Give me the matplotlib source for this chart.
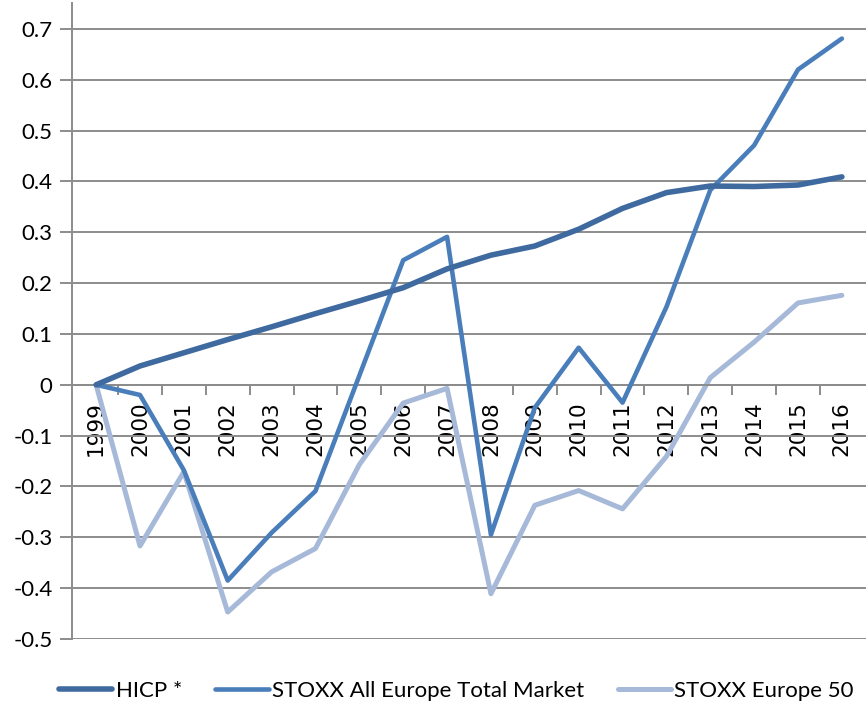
import matplotlib
matplotlib.use('Agg')
import matplotlib.pyplot as plt
import numpy as np

years = ['1999', '2000', '2001', '2002', '2003', '2004', '2005', '2006', '2007',
         '2008', '2009', '2010', '2011', '2012', '2013', '2014', '2015', '2016']
hicp = [0, 0.037, 0.063, 0.089, 0.114, 0.140, 0.165, 0.191, 0.228,
        0.255, 0.273, 0.306, 0.347, 0.378, 0.391, 0.390, 0.393, 0.409]
stoxx_total = [0, -0.02, -0.168, -0.385, -0.291, -0.209, 0.018, 0.245, 0.291,
               -0.295, -0.045, 0.073, -0.035, 0.153, 0.383, 0.471, 0.620, 0.681]
stoxx_50 = [0, -0.317, -0.171, -0.447, -0.368, -0.322, -0.157, -0.036, -0.007,
            -0.411, -0.237, -0.208, -0.244, -0.141, 0.014, 0.084, 0.161, 0.176]

plt.rcParams['font.family'] = ['Lato', 'DejaVu Sans']

fig = plt.figure(figsize=(8.66, 7.15), dpi=100)
ax = fig.add_axes([72/866, 76/715, 794/866, 636/715])

x = np.arange(len(years))
ax.plot(x, hicp, color='#3F6A9F', lw=4.0, label='HICP *', solid_capstyle='round', zorder=4)
ax.plot(x, stoxx_total, color='#4A7EBB', lw=3.3, label='STOXX All Europe Total Market',
        solid_capstyle='round', zorder=3)
ax.plot(x, stoxx_50, color='#A7B9D8', lw=3.6, label='STOXX Europe 50',
        solid_capstyle='round', zorder=2)

ax.set_xlim(-0.55, 17.55)
ax.set_ylim(-0.5, 0.751)
ax.set_yticks(np.arange(-0.5, 0.71, 0.1))
ax.set_yticklabels(['-0.5', '-0.4', '-0.3', '-0.2', '-0.1', '0', '0.1', '0.2',
                    '0.3', '0.4', '0.5', '0.6', '0.7'], fontsize=16)
ax.yaxis.grid(True, color='#8C8C8C', lw=1.4)
ax.set_axisbelow(True)

for s in ['top', 'right']:
    ax.spines[s].set_visible(False)
ax.spines['left'].set_color('#8C8C8C')
ax.spines['left'].set_linewidth(1.4)
ax.spines['bottom'].set_position(('data', 0))
ax.spines['bottom'].set_color('#8C8C8C')
ax.spines['bottom'].set_linewidth(1.4)
ax.tick_params(axis='y', length=9, width=1.4, color='#8C8C8C', pad=5)

ax.set_xticks(x)
ax.set_xticklabels(years, rotation=90, fontsize=15.5, family='DejaVu Sans', va='top')
ax.set_xticks(np.arange(0.5, 17, 1), minor=True)
ax.tick_params(axis='x', which='major', length=0, pad=12)
ax.tick_params(axis='x', which='minor', length=7, width=1.4, color='#8C8C8C', direction='out')

fig.legend(loc='lower left', bbox_to_anchor=(48/866, 3/715), ncol=3, frameon=False,
           borderpad=0, fontsize=16, handlelength=2.4, handletextpad=0.15,
           columnspacing=1.5)

fig.savefig('out.png', dpi=100)
